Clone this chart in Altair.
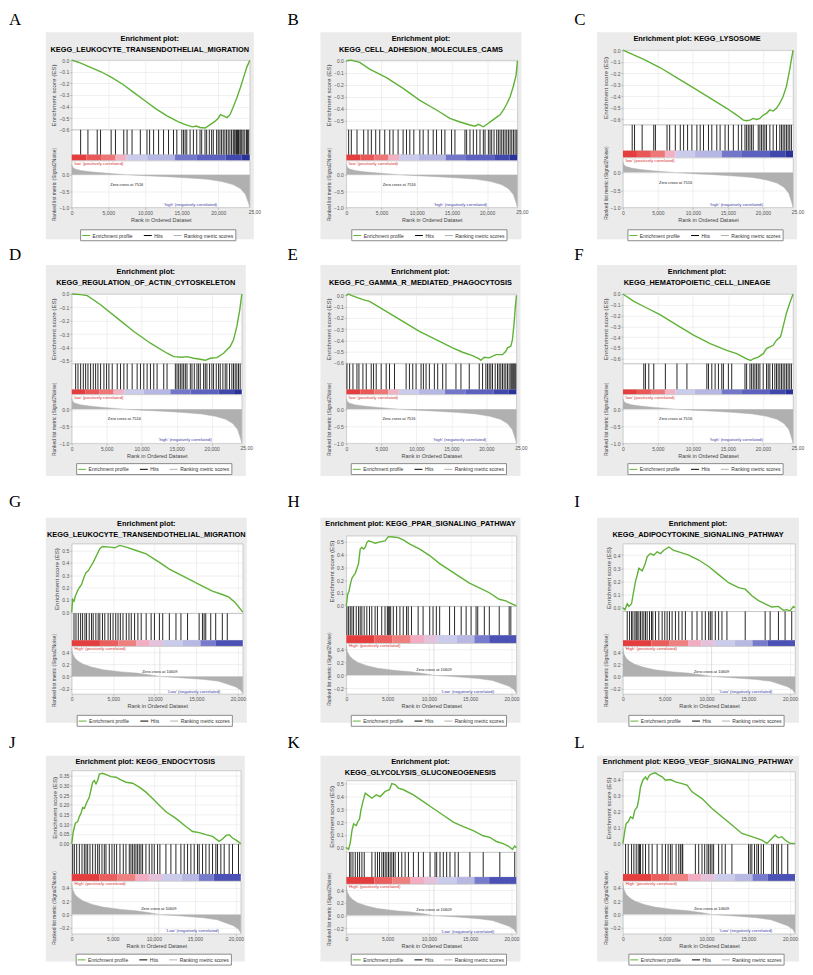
import altair as alt
import pandas as pd

# ---------------------------------------------------------------- data
A_ES = [(0,0.0),(1000,-0.02),(2500,-0.06),(4000,-0.10),(5500,-0.15),(7000,-0.21),(8500,-0.28),(10000,-0.35),(11500,-0.42),(13000,-0.48),(14500,-0.53),(15500,-0.555),(16500,-0.575),(17000,-0.568),(17500,-0.58),(18200,-0.585),(18800,-0.56),(19500,-0.53),(20000,-0.50),(20300,-0.47),(20700,-0.48),(21200,-0.495),(21600,-0.47),(22000,-0.41),(22500,-0.33),(23000,-0.24),(23500,-0.14),(23900,-0.06),(24300,0.0)]
A_HITS = [1222,2217,3484,3937,5385,5973,7104,7557,8236,9367,10272,10634,11177,11856,12534,13213,13892,14344,15023,15249,15476,15702,16154,16607,17059,17512,17738,18191,18417,18779,19095,19322,19774,20001,20227,20453,20680,20906,21132,21359,21585,21812,22038,22173,22309,22490,22626,22762,22943,23078,23214,23395,23621,23848,24000,24150]

B_ES = [(0,0.0),(712,0.005),(1900,-0.014),(3320,-0.07),(5700,-0.14),(8070,-0.23),(10440,-0.33),(12810,-0.41),(14710,-0.48),(16140,-0.51),(17560,-0.535),(18270,-0.545),(18750,-0.53),(19460,-0.55),(20170,-0.52),(20880,-0.49),(21360,-0.47),(21830,-0.45),(22310,-0.41),(22780,-0.36),(23260,-0.30),(23730,-0.21),(24110,-0.12),(24300,0.0)]
B_HITS = [332,712,1519,2468,3085,3560,4176,4746,5458,6170,6644,7356,8068,8543,9017,9587,10441,10916,11628,12340,12814,13526,14001,14950,15425,16848,17086,17560,18035,18509,18984,19459,19696,20171,20408,20645,20977,21357,21594,21832,22069,22306,22544,22781,23018,23255,23493,23730,23967,24205]

C_ES = [(0,0.0),(2984,-0.08),(5353,-0.153),(7721,-0.241),(10090,-0.329),(12458,-0.418),(14827,-0.506),(16248,-0.565),(17195,-0.609),(17669,-0.615),(18143,-0.609),(18616,-0.594),(19090,-0.603),(19564,-0.594),(20038,-0.565),(20511,-0.55),(20985,-0.52),(21459,-0.53),(21932,-0.506),(22406,-0.462),(22880,-0.403),(23354,-0.315),(23827,-0.168),(24064,-0.08),(24300,0.0)]
C_HITS = [1326,1658,2747,4405,4642,6300,6679,7484,8195,8669,9237,9853,10564,11037,11511,12221,12695,13406,13880,14590,15064,15775,16485,16959,17433,17669,17906,18143,18380,18617,19328,19564,19801,20038,20275,20512,20985,21459,21933,22406,22643,22880,23117,23354,23591,23828,24064]

D_ES = [(0,0.0),(1281,-0.005),(2231,-0.0125),(4129,-0.08),(6502,-0.18),(8875,-0.28),(11248,-0.3675),(13621,-0.4425),(14570,-0.4675),(15757,-0.4725),(16469,-0.4675),(17418,-0.48),(18367,-0.4875),(19079,-0.495),(19791,-0.48),(20740,-0.475),(21689,-0.4425),(22639,-0.3925),(23113,-0.3425),(23588,-0.2425),(24000,-0.12),(24300,0.0)]
D_HITS = [570,902,1281,1661,1993,2326,2705,3085,3417,3749,4129,4604,4983,5316,5790,6502,6977,7451,7926,8638,9350,9824,10299,10773,11248,11723,12197,13146,13621,14807,15045,15282,15519,15757,15994,16231,16469,16943,17181,17513,17892,18130,18367,18842,19079,19316,19696,20028,20265,20645,20977,21215,21594,21926,22164,22543,22876,23113,23350,23588,23825,24062]

E_ES = [(0,0.0),(330,0.012),(712,0.0),(2373,-0.038),(3322,-0.053),(5695,-0.142),(8068,-0.231),(10441,-0.32),(12814,-0.393),(15187,-0.467),(16611,-0.506),(18035,-0.536),(18984,-0.565),(19221,-0.577),(19696,-0.55),(20408,-0.556),(21357,-0.527),(22306,-0.527),(22781,-0.497),(23018,-0.467),(23493,-0.453),(23730,-0.393),(23967,-0.246),(24110,-0.127),(24300,0.0)]
E_HITS = [95,475,949,1519,1803,2373,2848,3560,3892,4271,4983,5695,6170,6882,8543,9017,9492,9967,10679,11011,11390,11865,12577,13052,13763,14238,15662,16374,17560,18984,19459,19933,20171,20408,20645,20882,21262,21594,21832,22069,22306,22544,22781,23018,23255,23493,23635,23777,23920,24062,24205]

F_ES = [(0,0.0),(1563,-0.069),(2984,-0.116),(5353,-0.194),(7721,-0.288),(10090,-0.381),(12458,-0.459),(14827,-0.522),(16248,-0.553),(17669,-0.60),(18238,-0.616),(18617,-0.60),(19328,-0.584),(20038,-0.553),(20512,-0.506),(20985,-0.491),(21459,-0.475),(21933,-0.428),(22501,-0.397),(22880,-0.303),(23354,-0.178),(23828,-0.084),(24300,0.0)]
F_HITS = [2984,3221,3695,4405,6063,7721,9142,11985,12221,12695,13169,13643,14117,14354,15064,15538,17433,17669,18143,18380,18617,18854,19091,19328,19564,20038,20512,20749,20985,21364,21696,21933,22170,22406,22643,22880,23117,23354,23591,23828,24064]

G_ES = [(0,0.0),(120,0.102),(279,0.088),(438,0.129),(677,0.17),(917,0.198),(1196,0.225),(1395,0.266),(1714,0.321),(1993,0.335),(2271,0.368),(2590,0.404),(2989,0.459),(3387,0.514),(3706,0.533),(4583,0.527),(5181,0.522),(5778,0.541),(6575,0.527),(7771,0.50),(8966,0.473),(10560,0.404),(11756,0.349),(13748,0.28),(15741,0.212),(16936,0.17),(18132,0.143),(18929,0.121),(19726,0.074),(20600,0.0)]
G_HITS = [279,518,797,1076,1315,1594,1793,2112,2391,2590,2909,3188,3387,3706,3985,4384,4662,4981,5300,5579,5858,6177,6575,6894,7173,7572,7970,8369,8966,9564,9963,10560,10959,11756,12553,13151,13948,15342,15741,15940,16139,16737,17335,18132,18730]

H_ES = [(0,0.0),(160,0.089),(321,0.114),(481,0.165),(681,0.216),(882,0.236),(1082,0.254),(1283,0.292),(1483,0.33),(1683,0.444),(1884,0.457),(2084,0.444),(2285,0.457),(2485,0.495),(2685,0.508),(3086,0.50),(3487,0.49),(4088,0.50),(4689,0.508),(5090,0.541),(5691,0.538),(6293,0.533),(6894,0.515),(7695,0.482),(8898,0.444),(10100,0.393),(11303,0.33),(12505,0.279),(13707,0.228),(14910,0.178),(16112,0.14),(17315,0.102),(18517,0.051),(19319,0.038),(19719,0.025),(20600,0.0)]
H_HITS = [80,281,481,681,882,1202,1483,1683,1884,2164,2485,2806,3086,3487,3768,4289,4689,4970,5090,5210,5371,5691,6092,6493,6894,7295,7495,7896,8697,9299,10100,10501,10902,11303,12505,13106,13908,14509,15110,15711,15912,16713,17315,18517,19719,19920]

I_ES = [(0,0.0),(239,-0.015),(517,0.03),(716,0.01),(1034,0.03),(1193,0.091),(1511,0.202),(1710,0.247),(1909,0.301),(2307,0.281),(2625,0.326),(2903,0.388),(3301,0.412),(3699,0.40),(4096,0.425),(4494,0.412),(4892,0.437),(5488,0.462),(6085,0.437),(6681,0.425),(7874,0.40),(9068,0.363),(10261,0.314),(11454,0.252),(12647,0.19),(13840,0.153),(14635,0.141),(15431,0.091),(16226,0.054),(17022,0.03),(17817,0.005),(18612,0.01),(19209,-0.02),(19606,-0.015),(20004,-0.025),(20402,0.01),(20600,0.0)]
I_HITS = [517,795,1034,1193,1432,1591,1710,1909,2108,2307,2506,2704,2903,3182,3420,3579,3897,4295,4693,5011,5289,5568,5886,6284,6681,7079,7477,8272,8869,9465,9863,10261,10460,10658,11056,11454,11851,12448,14635,17022,17618,18612,19408,20203]

J_ES = [(0,0.0),(203,0.0625),(446,0.105),(730,0.113),(933,0.139),(1135,0.156),(1338,0.186),(1541,0.181),(1825,0.21),(2149,0.24),(2555,0.316),(2757,0.325),(2960,0.308),(3163,0.325),(3366,0.358),(3771,0.362),(4177,0.355),(4785,0.345),(5393,0.342),(6001,0.328),(6610,0.316),(7421,0.311),(8232,0.291),(9043,0.265),(9854,0.232),(10665,0.198),(11476,0.164),(12692,0.13),(13909,0.088),(14720,0.0625),(15531,0.057),(16342,0.046),(17153,0.037),(17964,0.012),(18370,0.024),(18775,0.041),(19180,0.046),(19586,0.029),(20072,0.017),(20600,0.0)]
J_HITS = [122,324,608,933,1257,1541,1744,1946,2230,2555,2879,3163,3366,3690,3974,4177,4582,4907,5190,5474,5880,6285,6610,7015,7218,7421,7623,7826,8029,8232,8434,8637,9043,9448,9773,10056,10462,10746,11476,12084,12692,13300,13706,14111,14517,14922,15328,15531,15936,16342,16747,17153,17558,17761,18167,18572,19180,19586,20316]

K_ES = [(0,0.0),(282,-0.013),(483,0.04),(684,0.133),(885,0.186),(1207,0.173),(1368,0.199),(1609,0.226),(1770,0.293),(2012,0.359),(2293,0.426),(2575,0.412),(3098,0.386),(3621,0.412),(4103,0.399),(4707,0.439),(5230,0.452),(5512,0.50),(5914,0.492),(6316,0.465),(6920,0.452),(8126,0.412),(9333,0.359),(10540,0.306),(11747,0.253),(12954,0.199),(14161,0.165),(15368,0.133),(16575,0.093),(17379,0.08),(18184,0.048),(18988,0.032),(19592,0.013),(20115,-0.013),(20396,0.013),(20600,0.0)]
K_HITS = [402,563,805,1086,1368,1609,1891,2172,3098,3500,3782,4023,4305,4506,4707,4908,5109,5310,5512,5713,5914,6316,6718,7121,7523,8126,8730,9333,10138,10741,10942,11345,11747,12149,12552,13155,13558,14966,16575,18586,20396]

L_ES = [(0,0.0),(239,0.083),(398,0.125),(636,0.135),(915,0.167),(1193,0.156),(1432,0.208),(1710,0.229),(1909,0.281),(2108,0.354),(2386,0.396),(2704,0.417),(2903,0.40),(3182,0.427),(3500,0.4375),(3897,0.442),(4295,0.427),(4693,0.417),(5091,0.396),(5687,0.40),(6284,0.385),(7079,0.375),(7676,0.365),(8272,0.323),(9465,0.281),(10658,0.219),(11851,0.167),(13045,0.115),(14238,0.0625),(15431,0.042),(16624,0.021),(17221,0.0),(17817,0.031),(18215,0.052),(18612,0.035),(19010,0.042),(19408,0.021),(20004,0.0),(20600,0.0)]
L_HITS = [318,636,1034,1312,1591,1829,1989,2108,2386,2704,3102,3500,4096,4693,5091,5409,5687,5886,6363,6681,6880,7079,7159,8670,9068,9465,9783,10062,10261,10460,10658,10857,11454,11851,12249,13045,15033,15232,15431,15749,16027,16226,16544,16823,17817,18016,18413,18612,19010,19726]

# ranked list metric (shared by each dataset)
METRIC_1 = [(0,0.32),(100,0.24),(400,0.18),(1200,0.13),(2500,0.09),(4500,0.05),(7516,0.0),(10000,-0.03),(13000,-0.06),(16000,-0.10),(18500,-0.14),(20500,-0.21),(22000,-0.30),(23000,-0.42),(23700,-0.60),(24100,-0.85),(24300,-1.0)]
METRIC_2 = [(0,0.47),(100,0.38),(400,0.30),(800,0.25),(1400,0.20),(2500,0.15),(3800,0.11),(6000,0.075),(7800,0.055),(9500,0.025),(10609,0.0),(13000,-0.02),(16000,-0.05),(17700,-0.08),(19700,-0.17),(20300,-0.22),(20600,-0.28)]

# phenotype colour bar segments (start, end, colour)
BAR_1 = [(0,2000,"#e43d3d"),(2000,4000,"#e95757"),(4000,6000,"#ee7676"),(6000,7500,"#f2b2c4"),(7500,10300,"#cbcbec"),(10300,14100,"#b6b8e3"),(14100,17000,"#7377c9"),(17000,21000,"#5c61bf"),(21000,23200,"#4047ad"),(23200,24300,"#2b3297")]
BAR_2 = [(0,3400,"#e43d3d"),(3400,5600,"#ea5e5e"),(5600,7800,"#ef8080"),(7800,9400,"#f2adc2"),(9400,11000,"#e6c1db"),(11000,13400,"#cbcbec"),(13400,15500,"#b7b9e3"),(15500,17300,"#777bcb"),(17300,20600,"#4b51b5")]

X_TICKS = [0, 5000, 10000, 15000, 20000]
METRIC_TICKS_1 = [0.0, -0.5, -1.0]
METRIC_TICKS_2 = [0.4, 0.2, 0.0, -0.2]
TICKS_NEG6 = [0.0, -0.1, -0.2, -0.3, -0.4, -0.5, -0.6]
TICKS_NEG5 = [0.0, -0.1, -0.2, -0.3, -0.4, -0.5]
TICKS_POS5 = [0.0, 0.1, 0.2, 0.3, 0.4, 0.5]
TICKS_POS4 = [0.0, 0.1, 0.2, 0.3, 0.4]
TICKS_J = [0.0, 0.05, 0.10, 0.15, 0.20, 0.25, 0.30, 0.35]

LEGEND_NAMES = ["Enrichment profile", "Hits", "Ranking metric scores"]

# ---------------------------------------------------------------- style
FONT = "Liberation Sans"
SERIF = "Liberation Serif"
GREEN = "#5fb236"
BOX = "#ebebeb"
BORDER = "#b8b8b8"
MGRAY = "#b0b0b0"
GRID = "#e0e0e0"
LEGEND_COLORS = [GREEN, "#000000", MGRAY]

DATASETS = {
    1: dict(n=24300, metric=METRIC_1, mdom=[-1.0, 0.43], mticks=METRIC_TICKS_1, bar=BAR_1,
            zero=7516, zc_y=-0.3, pos="'low' (positively correlated)",
            neg="'high' (negatively correlated)", neg_x=16200, neg_y=-0.92, last_tick=True),
    2: dict(n=20600, metric=METRIC_2, mdom=[-0.29, 0.5], mticks=METRIC_TICKS_2, bar=BAR_2,
            zero=10609, zc_y=0.08, pos="'High' (positively correlated)",
            neg="'Low' (negatively correlated)", neg_x=14700, neg_y=-0.255, last_tick=False),
}

PANELS = {
    "A": dict(title="Enrichment plot:\nKEGG_LEUKOCYTE_TRANSENDOTHELIAL_MIGRATION", es=A_ES, hits=A_HITS, ds=1,
              ydom=[-0.6, 0.0], yticks=TICKS_NEG6, fmt=".1f", w=179, hd=28, he=70, hh=25, hc=6, hm=47),
    "B": dict(title="Enrichment plot:\nKEGG_CELL_ADHESION_MOLECULES_CAMS", es=B_ES, hits=B_HITS, ds=1,
              ydom=[-0.575, 0.005], yticks=TICKS_NEG5, fmt=".1f", w=172, hd=28, he=70, hh=25, hc=6, hm=47),
    "C": dict(title="Enrichment plot: KEGG_LYSOSOME", es=C_ES, hits=C_HITS, ds=1,
              ydom=[-0.65, 0.0], yticks=TICKS_NEG6, fmt=".1f", w=171, hd=18, he=75, hh=26, hc=7, hm=50),
    "D": dict(title="Enrichment plot:\nKEGG_REGULATION_OF_ACTIN_CYTOSKELETON", es=D_ES, hits=D_HITS, ds=1,
              ydom=[-0.52, 0.0], yticks=TICKS_NEG5, fmt=".1f", w=171, hd=29, he=70, hh=26, hc=5, hm=49),
    "E": dict(title="Enrichment plot:\nKEGG_FC_GAMMA_R_MEDIATED_PHAGOCYTOSIS", es=E_ES, hits=E_HITS, ds=1,
              ydom=[-0.607, 0.012], yticks=TICKS_NEG6, fmt=".1f", w=171, hd=29, he=70, hh=26, hc=5, hm=49),
    "F": dict(title="Enrichment plot:\nKEGG_HEMATOPOIETIC_CELL_LINEAGE", es=F_ES, hits=F_HITS, ds=1,
              ydom=[-0.645, 0.0], yticks=TICKS_NEG6, fmt=".1f", w=171, hd=29, he=70, hh=26, hc=5, hm=49),
    "G": dict(title="Enrichment plot:\nKEGG_LEUKOCYTE_TRANSENDOTHELIAL_MIGRATION", es=G_ES, hits=G_HITS, ds=2,
              ydom=[-0.01, 0.555], yticks=TICKS_POS5, fmt=".1f", w=172, hd=26, he=70, hh=27, hc=6, hm=48),
    "H": dict(title="Enrichment plot: KEGG_PPAR_SIGNALING_PATHWAY", es=H_ES, hits=H_HITS, ds=2,
              ydom=[-0.005, 0.548], yticks=TICKS_POS5, fmt=".1f", w=171, hd=18, he=71, hh=29, hc=8, hm=51),
    "I": dict(title="Enrichment plot:\nKEGG_ADIPOCYTOKINE_SIGNALING_PATHWAY", es=I_ES, hits=I_HITS, ds=2,
              ydom=[-0.028, 0.487], yticks=TICKS_POS4, fmt=".1f", w=173, hd=26, he=68, hh=29, hc=6, hm=48),
    "J": dict(title="Enrichment plot: KEGG_ENDOCYTOSIS", es=J_ES, hits=J_HITS, ds=2,
              ydom=[-0.003, 0.376], yticks=TICKS_J, fmt=".2f", w=170, hd=15, he=74, hh=30, hc=7, hm=53),
    "K": dict(title="Enrichment plot:\nKEGG_GLYCOLYSIS_GLUCONEOGENESIS", es=K_ES, hits=K_HITS, ds=2,
              ydom=[-0.035, 0.524], yticks=TICKS_POS5, fmt=".1f", w=171, hd=25, he=72, hh=25, hc=7, hm=50),
    "L": dict(title="Enrichment plot: KEGG_VEGF_SIGNALING_PATHWAY", es=L_ES, hits=L_HITS, ds=2,
              ydom=[-0.005, 0.45], yticks=TICKS_POS4, fmt=".1f", w=173, hd=16, he=73, hh=30, hc=7, hm=53),
}

ROWS = [["A", "B", "C"], ["D", "E", "F"], ["G", "H", "I"], ["J", "K", "L"]]
ROW_GAP = [0, 58, 75, 62]
LETTER_DY = [-7, -5, -11, -8]
LETTER_X = [-63, -59, -49]
BOX_BOTTOM = [32, 33, 29, 28]
LEGEND_DY = [22, 20, 21, 20]


def x_enc(n, axis):
    return alt.X("rank:Q", scale=alt.Scale(domain=[0, n], nice=False, zero=False), axis=axis)


def build_panel(key, row, col):
    p = PANELS[key]
    d = DATASETS[p["ds"]]
    W = p["w"]
    gap = ROW_GAP[row]
    hd = gap + p["hd"]
    total = hd + p["he"] + p["hh"] + p["hc"] + p["hm"]
    one = pd.DataFrame({"k": [0]})
    base = alt.Chart(one)

    # header: grey frame, panel letter, title
    layers = [
        base.mark_rect(color=BOX).encode(
            x=alt.value(-26), x2=alt.value(W + 4),
            y=alt.value(gap), y2=alt.value(total + BOX_BOTTOM[row])),
        base.mark_text(font=SERIF, fontSize=17, align="left", baseline="alphabetic", color="black").encode(
            x=alt.value(LETTER_X[col]), y=alt.value(gap + LETTER_DY[row]), text=alt.value(key)),
        base.mark_text(font=FONT, fontSize=7.4, fontWeight="bold", align="center", baseline="alphabetic",
                       lineBreak="\n", lineHeight=11, color="black").encode(
            x=alt.value((W - 22) / 2), y=alt.value(gap + 8.5), text=alt.value(p["title"])),
    ]
    if col == 1:
        layers.append(base.mark_rect(opacity=0).encode(
            x=alt.value(W + 4), x2=alt.value(W + 30), y=alt.value(gap), y2=alt.value(gap + 5)))
    header = alt.layer(*layers).properties(width=W, height=hd,
                                           view=alt.ViewBackground(stroke="transparent"))

    # enrichment score
    es_df = pd.DataFrame(p["es"], columns=["rank", "es"])
    es = alt.Chart(es_df).mark_line(color=GREEN, strokeWidth=1.4).encode(
        x=x_enc(d["n"], alt.Axis(values=X_TICKS, labels=False, ticks=False, domain=False, title=None, grid=True)),
        y=alt.Y("es:Q", scale=alt.Scale(domain=p["ydom"], nice=False, zero=False),
                axis=alt.Axis(values=p["yticks"], format=p["fmt"], title="Enrichment score (ES)",
                              titleFontSize=6.2, grid=True, domain=False)),
    ).properties(width=W, height=p["he"],
                 view=alt.ViewBackground(fill="white", stroke=BORDER, strokeWidth=0.7))

    # hits
    hits = alt.Chart(pd.DataFrame({"rank": p["hits"]})).mark_rule(color="black", strokeWidth=0.85).encode(
        x=x_enc(d["n"], None),
    ).properties(width=W, height=p["hh"],
                 view=alt.ViewBackground(fill="white", stroke=BORDER, strokeWidth=0.7))

    # colour bar
    bar_df = pd.DataFrame(d["bar"], columns=["rank", "end", "col"])
    bar = alt.Chart(bar_df).mark_rect(strokeWidth=0).encode(
        x=x_enc(d["n"], None), x2="end:Q",
        y=alt.value(0), y2=alt.value(p["hc"]),
        color=alt.Color("col:N", scale=None),
    ).properties(width=W, height=p["hc"],
                 view=alt.ViewBackground(fill="white", stroke="transparent"))

    # ranked list metric
    xa = alt.Axis(values=X_TICKS, format=",d", title="Rank in Ordered Dataset", grid=True, domain=False)
    ya = alt.Axis(values=d["mticks"], format=".1f", title="Ranked list metric (Signal2Noise)",
                  titleFontSize=5, grid=True, domain=False)
    X = x_enc(d["n"], xa)
    Y = alt.Y("m:Q", scale=alt.Scale(domain=d["mdom"], nice=False, zero=False), axis=ya)
    m_df = pd.DataFrame(d["metric"], columns=["rank", "m"])
    m_df["series"] = "Ranking metric scores"
    area = alt.Chart(m_df).mark_area(color=MGRAY).encode(x=X, y=Y, y2=alt.datum(0))
    legend = alt.Legend(orient="none", legendX=(W - 22) / 2 - 70, legendY=p["hm"] + LEGEND_DY[row],
                        direction="horizontal", title=None, symbolType="stroke", symbolSize=64,
                        symbolStrokeWidth=1, labelFontSize=5, labelFont=FONT, labelColor="#333",
                        columnPadding=8, padding=1.5, strokeColor="#8a8a8a", fillColor="white",
                        labelOffset=2)
    mline = alt.Chart(m_df).mark_line(strokeWidth=0.5).encode(
        x=X, y=Y,
        stroke=alt.Stroke("series:N", scale=alt.Scale(domain=LEGEND_NAMES, range=LEGEND_COLORS), legend=legend))
    mlayers = [area, mline]
    if p["ds"] == 2:
        zr = pd.DataFrame({"rank": [d["zero"]]})
        mlayers.append(alt.Chart(zr).mark_rule(color="#d2d2d2", strokeWidth=0.7).encode(x=X))
    zc_df = pd.DataFrame({"rank": [d["zero"]], "m": [d["zc_y"]], "label": ["Zero cross at %d" % d["zero"]]})
    mlayers.append(alt.Chart(zc_df).mark_text(font=FONT, fontSize=4, color="#222", baseline="middle").encode(
        x=X, y=Y, text="label:N"))
    ng_df = pd.DataFrame({"rank": [d["neg_x"]], "m": [d["neg_y"]], "label": [d["neg"]]})
    mlayers.append(alt.Chart(ng_df).mark_text(font=FONT, fontSize=4.3, color="#3a3aa8", baseline="middle").encode(
        x=X, y=Y, text="label:N"))
    mlayers.append(base.mark_text(font=FONT, fontSize=4.3, color="#d83030", align="left", baseline="top").encode(
        x=alt.value(2), y=alt.value(1.2), text=alt.value(d["pos"])))
    if d["last_tick"]:
        lt = pd.DataFrame({"rank": [25000], "label": ["25,00"]})
        mlayers.append(alt.Chart(lt).mark_text(font=FONT, fontSize=5, color="#555", baseline="top").encode(
            x=X, y=alt.value(p["hm"] + 3), text="label:N"))
    metric = alt.layer(*mlayers).properties(width=W, height=p["hm"],
                                            view=alt.ViewBackground(fill="white", stroke=BORDER, strokeWidth=0.7))
    return [header, es, hits, bar, metric]


columns = []
for c in range(3):
    units = []
    for r in range(4):
        units += build_panel(ROWS[r][c], r, c)
    columns.append(alt.vconcat(*units, spacing=0, bounds="flush").resolve_scale(stroke="independent"))

chart = alt.hconcat(*columns, spacing=25).resolve_scale(stroke="independent").properties(
    padding=0, background="white"
).configure_axis(
    labelFont=FONT, titleFont=FONT, labelFontSize=5, titleFontSize=5.5, labelColor="#555",
    titleColor="#444", titleFontWeight="normal", tickColor="#999", tickSize=2, tickWidth=0.5,
    labelPadding=1, titlePadding=2, gridColor=GRID, gridWidth=0.5, labelFlush=False, labelOverlap=False
)

chart.save("out.html", embed_options={"renderer": "svg", "actions": False})
